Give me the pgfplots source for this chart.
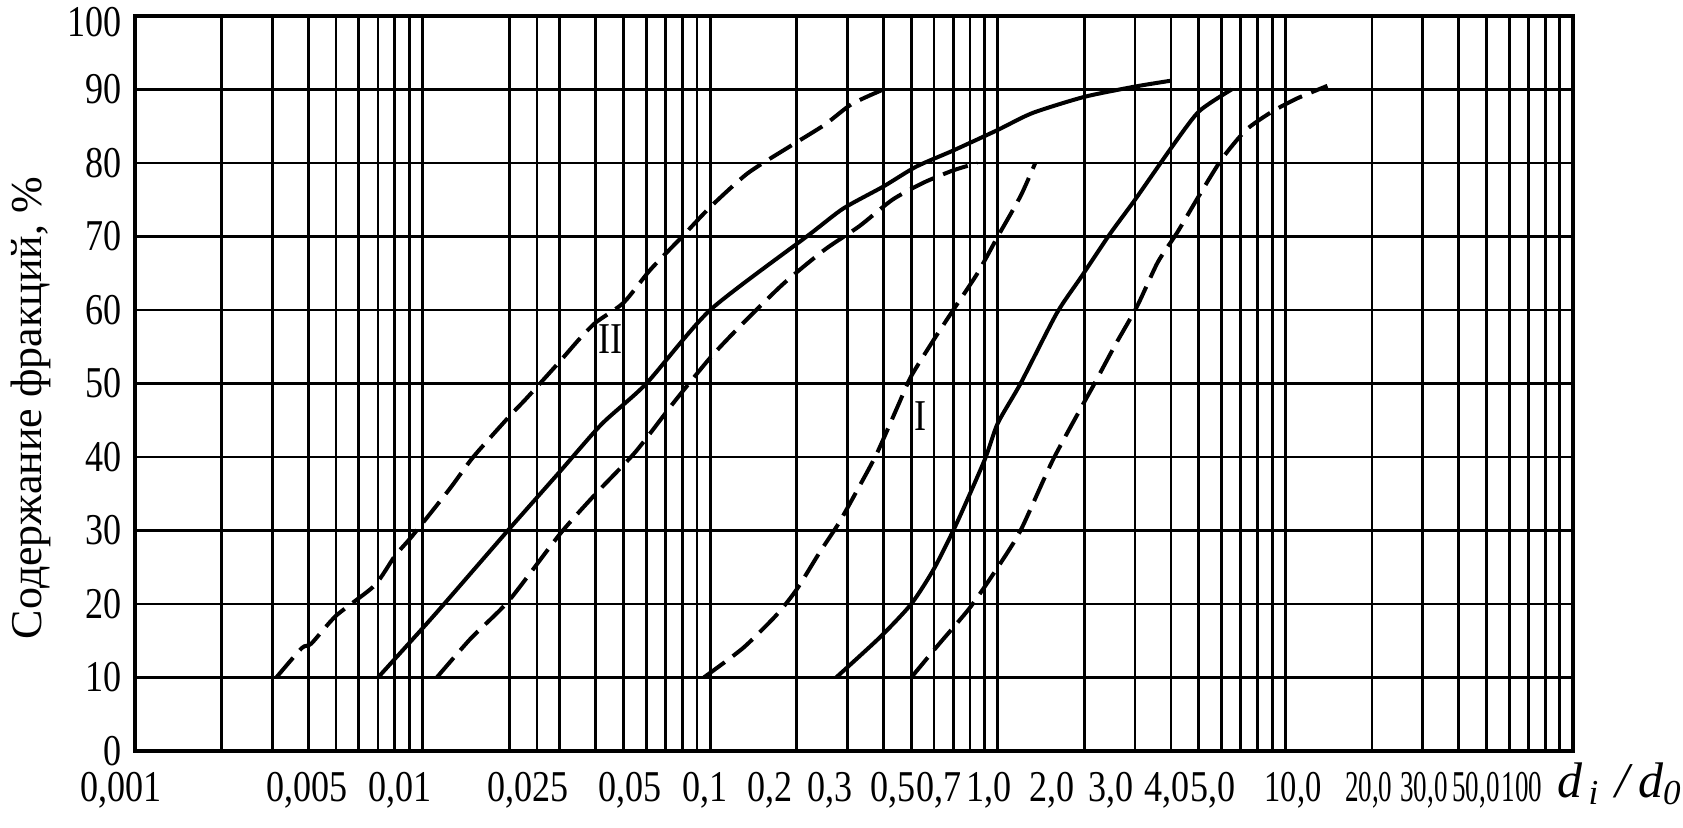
\documentclass[border=0pt]{standalone}
\usepackage{fontspec}
\setmainfont{Liberation Serif}
\newfontfamily\cond{Liberation Serif}[FakeStretch=0.82]
\usepackage{pgfplots}
\pgfplotsset{compat=1.18}
\newcommand{\sq}[1]{\scalebox{0.75}[1]{#1}}
\begin{document}
\begin{tikzpicture}
\useasboundingbox (-67.5pt,-38pt) rectangle (774pt,375.5pt);
\begin{axis}[
  at={(0,0)}, anchor=south west,
  scale only axis, width=719pt, height=367.5pt,
  xmode=log, xmin=0.001, xmax=100, ymin=0, ymax=100,
  axis line style={line width=1.8pt},
  xtick={0.001,0.003963,0.008343,0.02325,0.05262,0.09592,0.1614,0.2610,0.4321,0.6246,0.9320,1.543,2.475,3.876,5.602,10.63,19.5,30.3,46.0,66.5},
  xticklabels={{\makebox[0pt]{\hspace*{-14pt}0,001}},{0,005},{0,01},{0,025},{0,05},{0,1},{0,2},{0,3},{0,5},{0,7},{1,0},{2,0},{3,0},{4,0},{5,0},{\scalebox{0.9}[1]{10,0}},{\sq{20,0}},{\sq{30,0}},{\sq{50,0}},{\sq{100}}},
  minor xtick={0.002,0.003,0.004,0.005,0.006,0.007,0.008,0.009,0.01,0.02,0.025,0.03,0.04,0.05,0.06,0.07,0.08,0.09,0.1,0.2,0.3,0.4,0.5,0.6,0.7,0.8,0.9,1,2,3,4,5,6,7,8,9,10,20,30,40,50,60,70,80,90},
  xminorgrids=true, xmajorgrids=false, ymajorgrids=true,
  ytick={0,10,20,30,40,50,60,70,80,90,100},
  yticklabels={0,10,20,30,40,50,60,70,80,90,{\raisebox{-10.2pt}[0pt][0pt]{100}}},
  major tick length=0pt, minor tick length=0pt,
  minor grid style={line width=1.4pt, black},
  major grid style={line width=1.4pt, black},
  tick label style={font=\cond\fontsize{22}{26}\selectfont, black},
  xticklabel style={yshift=-7pt},
  yticklabel style={xshift=-3pt},
  ylabel={Содержание фракций, \%},
  ylabel style={at={(axis description cs:-0.0723,0.4667)}, anchor=center, font=\fontsize{22}{26}\selectfont},
  xlabel={\itshape d\textsubscript{\,i}\,\,/\,d\textsubscript{0}},
  xlabel style={at={(axis description cs:0.9845,-0.045)}, anchor=west, font=\fontsize{25}{28}\selectfont},
]
% Group II
\addplot[black, line width=2pt, dash pattern=on 13pt off 5pt, smooth, tension=0.4] coordinates {
(0.0031,10) (0.0038,14) (0.0041,14.6) (0.005,18.4) (0.0068,22.5) (0.008,26.5) (0.009,28.8) (0.01,31)
(0.0125,35.8) (0.015,40) (0.02,45.5) (0.023,48) (0.03,53) (0.035,56) (0.04,58.3) (0.05,61)
(0.062,65.5) (0.08,70) (0.1,74) (0.135,78.6) (0.19,82.3) (0.25,85.2) (0.31,88) (0.4,90)};
\addplot[black, line width=2pt, smooth, tension=0.4] coordinates {
(0.007,10) (0.01,16.7) (0.012,20.2) (0.02,30.2) (0.03,38) (0.042,44.5) (0.06,50) (0.1,60)
(0.22,70.2) (0.29,73.8) (0.4,76.8) (0.52,79.5) (0.7,81.7) (1.0,84.5) (1.32,86.8) (2.0,89)
(3.0,90.4) (4.0,91.2)};
\addplot[black, line width=2pt, dash pattern=on 13pt off 5pt, smooth, tension=0.4] coordinates {
(0.0112,10) (0.0147,15.3) (0.02,20.5) (0.03,29.5) (0.04,35) (0.055,40.7) (0.075,47.5) (0.1,53.5)
(0.13,58.2) (0.18,63.6) (0.25,68.2) (0.33,71.4) (0.43,75) (0.55,77.3) (0.7,79) (0.85,80)};
% Group I
\addplot[black, line width=2pt, dash pattern=on 13pt off 5pt, smooth, tension=0.4] coordinates {
(0.095,10) (0.13,14) (0.17,18.5) (0.2,22) (0.24,27) (0.28,31) (0.33,36) (0.38,40.5) (0.45,47)
(0.5,51) (0.6,56) (0.7,60) (0.85,65) (1.0,70) (1.2,75.5) (1.35,80)};
\addplot[black, line width=2pt, smooth, tension=0.4] coordinates {
(0.274,10) (0.39,15.5) (0.5,20) (0.6,24.8) (0.72,31) (0.9,39.6) (1.0,44.6)
(1.2,50) (1.6,59.5) (1.95,64.5) (2.45,70.3) (3.0,75) (4.0,82) (5.0,87) (6.5,90)};
\addplot[black, line width=2pt, dash pattern=on 13pt off 5pt, smooth, tension=0.4] coordinates {
(0.5,10) (0.62,14.4) (0.8,19.5) (1.0,25) (1.2,30) (1.55,39.5) (2.0,47.5) (2.17,50) (2.54,55)
(3.05,60.5) (3.6,66.5) (4.2,70.5) (5.0,75.5) (6.0,80.5) (7.3,84.5) (9,87) (11,88.8) (14,90.5)};
\node[font=\cond\fontsize{22}{26}\selectfont] at (axis cs:0.045,56) {II};
\node[font=\cond\fontsize{22}{26}\selectfont] at (axis cs:0.54,45.5) {I};
\end{axis}
\end{tikzpicture}
\end{document}
